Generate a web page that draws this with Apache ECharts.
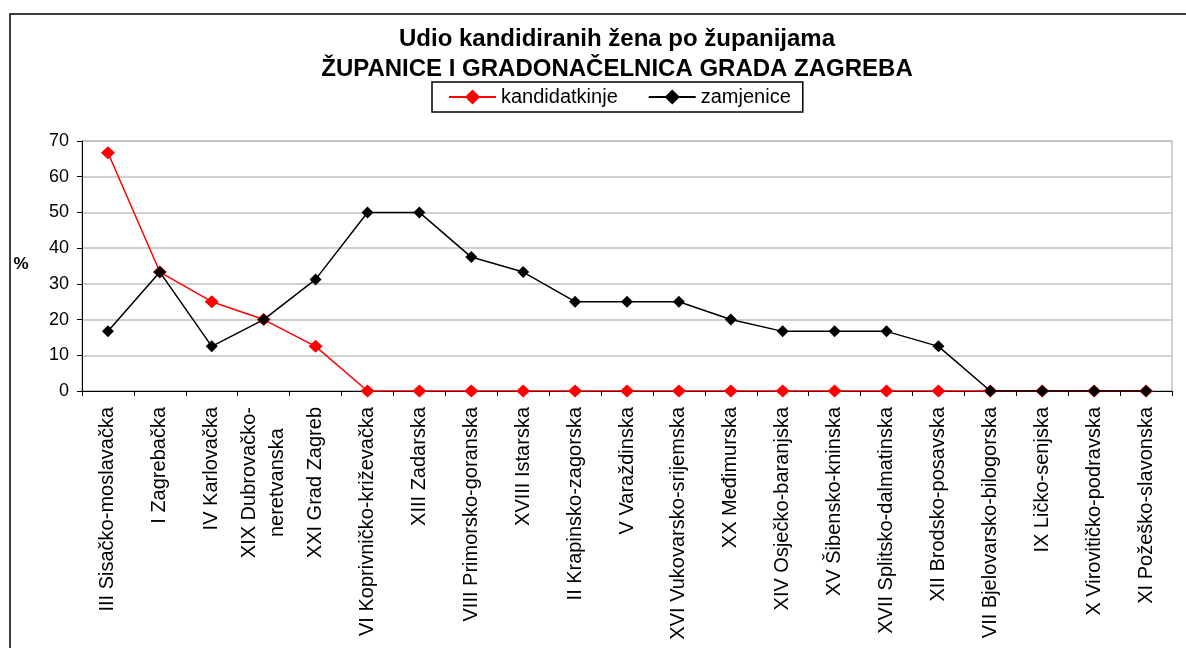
<!DOCTYPE html>
<html>
<head>
<meta charset="utf-8">
<title>Udio kandidiranih žena po županijama</title>
<script src="https://cdn.jsdelivr.net/npm/echarts@6/dist/echarts.min.js"></script>
<style>
    html, body { margin: 0; padding: 0; background: #fff; }
    #chart { width: 1186px; height: 648px; }
</style>
</head>
<body>
<div id="chart"></div>
<script>
// županije (kategorije na osi x)
const zupanije = [
    'III Sisačko-moslavačka', 'I Zagrebačka', 'IV Karlovačka', 'XIX Dubrovačko-\nneretvanska',
    'XXI Grad Zagreb', 'VI Koprivničko-križevačka', 'XIII Zadarska', 'VIII Primorsko-goranska',
    'XVIII Istarska', 'II Krapinsko-zagorska', 'V Varaždinska', 'XVI Vukovarsko-srijemska',
    'XX Međimurska', 'XIV Osječko-baranjska', 'XV Šibensko-kninska', 'XVII Splitsko-dalmatinska',
    'XII Brodsko-posavska', 'VII Bjelovarsko-bilogorska', 'IX Ličko-senjska',
    'X Virovitičko-podravska', 'XI Požeško-slavonska'
];

// udio (%) - kandidatkinje
const kandidatkinje = [66.7, 33.3, 25, 20, 12.5, 0, 0, 0, 0, 0, 0, 0, 0, 0, 0, 0, 0, 0, 0, 0, 0];

// udio (%) - zamjenice
const zamjenice = [16.7, 33.3, 12.5, 20, 31.25, 50, 50, 37.5, 33.3, 25, 25, 25, 20, 16.7, 16.7, 16.7, 12.5, 0, 0, 0, 0];

const naslov = ['Udio kandidiranih žena po županijama', 'ŽUPANICE I GRADONAČELNICA GRADA ZAGREBA'];

const FONT = '"Liberation Sans", Arial, sans-serif';

let chart = echarts.init(document.getElementById('chart'));

chart.setOption({
    backgroundColor: '#fff',
    animation: false,
    textStyle: { fontFamily: FONT, color: '#000' },
    title: {
        text: naslov.join('\n'),
        left: 617,
        top: 24,
        padding: 0,
        textAlign: 'center',
        textStyle: {
            fontFamily: FONT,
            fontSize: 24,
            fontWeight: 'bold',
            lineHeight: 30,
            color: '#000'
        }
    },
    legend: {
        left: 432,
        top: 82,
        padding: [5, 12, 5, 16],
        itemWidth: 47,
        itemHeight: 19,
        itemGap: 30,
        borderColor: '#000',
        borderWidth: 1.5,
        textStyle: { fontFamily: FONT, fontSize: 20, color: '#000' },
        data: ['kandidatkinje', 'zamjenice']
    },
    grid: {
        left: 82,
        right: 14,
        top: 141,
        bottom: 257,
        show: true,
        borderColor: '#c0c0c0',
        borderWidth: 1.5
    },
    graphic: [
        {
            type: 'rect',
            shape: { x: 10, y: 14, width: 1400, height: 900 },
            style: { fill: 'none', stroke: '#000', lineWidth: 1.5 },
            silent: true
        },
        {
            type: 'text',
            x: 21,
            y: 264,
            style: {
                text: '%',
                fontFamily: FONT,
                fontSize: 17,
                fontWeight: 'bold',
                fill: '#000',
                align: 'center',
                verticalAlign: 'middle'
            }
        }
    ],
    xAxis: {
        type: 'category',
        data: zupanije,
        boundaryGap: true,
        axisLine: { lineStyle: { color: '#000', width: 1 } },
        axisTick: { show: true, interval: 0, length: 5, lineStyle: { color: '#000' } },
        axisLabel: {
            interval: 0,
            rotate: 90,
            margin: 16,
            fontFamily: FONT,
            fontSize: 20,
            color: '#000',
            formatter: function (v) {
                if (v.indexOf('\n') < 0) return v;
                return v.split('\n').map(function (s) { return '{c|' + s + '}'; }).join('\n');
            },
            rich: {
                c: { align: 'center', fontFamily: FONT, fontSize: 20, color: '#000', lineHeight: 28 }
            }
        }
    },
    yAxis: {
        type: 'value',
        min: 0,
        max: 70,
        interval: 10,
        axisLine: { show: true, lineStyle: { color: '#000', width: 1 } },
        axisTick: { show: true, length: 5, lineStyle: { color: '#000' } },
        axisLabel: { margin: 13, fontFamily: FONT, fontSize: 18, color: '#000' },
        splitLine: { show: true, lineStyle: { color: '#c0c0c0', width: 1.5 } }
    },
    series: [
        {
            name: 'kandidatkinje',
            type: 'line',
            data: kandidatkinje,
            symbol: 'diamond',
            symbolSize: [14, 13],
            itemStyle: { color: '#ff0000' },
            lineStyle: { color: '#ff0000', width: 1.5 },
            z: 2
        },
        {
            name: 'zamjenice',
            type: 'line',
            data: zamjenice,
            symbol: 'diamond',
            symbolSize: [12, 12],
            itemStyle: { color: '#000' },
            lineStyle: { color: '#000', width: 1.5 },
            z: 3
        }
    ]
});

window.addEventListener('resize', function () {
    chart.resize();
});
</script>
</body>
</html>
